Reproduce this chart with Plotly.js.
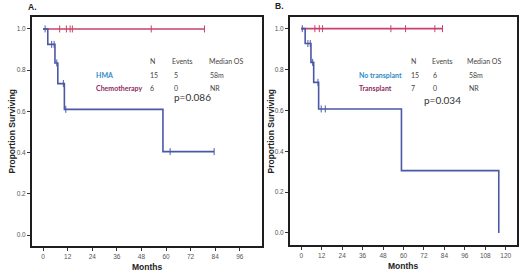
<!DOCTYPE html>
<html>
<head>
<meta charset="utf-8">
<script src="https://cdn.plot.ly/plotly-3.0.1.min.js"></script>
<style>html,body{margin:0;padding:0;background:#fff;}#chart{width:520px;height:274px;}</style>
</head>
<body>
<div id="chart"></div>
<script>
// ---- Panel A: HMA vs Chemotherapy ----
var hmaTimes = [0, 2.3, 5.8, 7.2, 10.4, 58.5, 83.5];
var hmaSurv = [1.0, 0.925, 0.835, 0.735, 0.61, 0.405, 0.405];
var hmaCensorT = [1.0, 4.2, 5.4, 6.7, 9.9, 11.1, 62.0, 83.5];
var hmaCensorS = [1.0, 0.925, 0.925, 0.835, 0.735, 0.61, 0.405, 0.405];
var chemoTimes = [0, 78.8];
var chemoSurv = [1.0, 1.0];
var chemoCensorT = [8.1, 11.4, 13.2, 14.3, 52.8, 78.8];
var chemoCensorS = [1.0, 1.0, 1.0, 1.0, 1.0, 1.0];

// ---- Panel B: No transplant vs Transplant ----
var noTxTimes = [0, 2.3, 5.7, 7.3, 10.2, 58.8, 115.9];
var noTxSurv = [1.0, 0.927, 0.835, 0.737, 0.607, 0.305, 0.0];
var noTxCensorT = [0.6, 3.9, 5.3, 6.7, 9.8, 11.7, 14.1];
var noTxCensorS = [1.0, 0.927, 0.927, 0.835, 0.737, 0.607, 0.607];
var txTimes = [0, 82.9];
var txSurv = [1.0, 1.0];
var txCensorT = [8.0, 10.6, 12.5, 52.6, 61.2, 78.4, 82.9];
var txCensorS = [1.0, 1.0, 1.0, 1.0, 1.0, 1.0, 1.0];

// ---- Tables ----
var tableHeader = ['N', 'Events', 'Median OS'];
var groupsA = ['HMA', 'Chemotherapy'];
var nA = ['15', '6'];
var eventsA = ['5', '0'];
var medianA = ['58m', 'NR'];
var pA = 'p=0.086';
var groupsB = ['No transplant', 'Transplant'];
var nB = ['15', '7'];
var eventsB = ['6', '0'];
var medianB = ['58m', 'NR'];
var pB = 'p=0.034';

var xTicksA = [0, 12, 24, 36, 48, 60, 72, 84, 96];
var xTicksB = [0, 12, 24, 36, 48, 60, 72, 84, 96, 108, 120];
var yTicks = [0.0, 0.2, 0.4, 0.6, 0.8, 1.0];

var BLUE = '#4a58a6', RED = '#c9416a';
var LBLUE = '#2f8bc6', LRED = '#8e2a62';

function km(x, y, color, xa, ya) {
  return {x: x, y: y, xaxis: xa, yaxis: ya, type: 'scatter', mode: 'lines',
    line: {color: color, width: 1.6, shape: 'hv'}, hoverinfo: 'skip', showlegend: false};
}
function cens(x, y, color, xa, ya) {
  return {x: x, y: y, xaxis: xa, yaxis: ya, type: 'scatter', mode: 'markers',
    marker: {symbol: 'line-ns', size: 5, line: {color: color, width: 1}},
    hoverinfo: 'skip', showlegend: false};
}

var data = [
  km(chemoTimes, chemoSurv, RED, 'x', 'y'),
  km(hmaTimes, hmaSurv, BLUE, 'x', 'y'),
  cens(chemoCensorT, chemoCensorS, RED, 'x', 'y'),
  cens(hmaCensorT, hmaCensorS, BLUE, 'x', 'y'),
  km(txTimes, txSurv, RED, 'x2', 'y2'),
  km(noTxTimes, noTxSurv, BLUE, 'x2', 'y2'),
  cens(txCensorT, txCensorS, RED, 'x2', 'y2'),
  cens(noTxCensorT, noTxCensorS, BLUE, 'x2', 'y2')
];

function px(x) { return x / 520; }
function py(y) { return 1 - y / 274; }

function axisCommon() {
  return {showline: true, mirror: true, linecolor: '#1e1e1e', linewidth: 2,
    ticks: 'outside', ticklen: 3, tickwidth: 1, tickcolor: '#333',
    showgrid: false, zeroline: false, fixedrange: true,
    tickfont: {family: 'Arial, Liberation Sans', size: 6.5, color: '#555'}};
}

var xA = axisCommon(); xA.domain = [px(32), px(261.5)]; xA.range = [-5.4, 106.6];
xA.tickvals = xTicksA; xA.anchor = 'y';
var yA = axisCommon(); yA.domain = [py(246), py(17)]; yA.range = [-0.053, 1.058];
yA.tickvals = yTicks; yA.tickformat = '.1f'; yA.anchor = 'x';
var xB = axisCommon(); xB.domain = [px(290), px(517)]; xB.range = [-6.6, 126.6];
xB.tickvals = xTicksB; xB.anchor = 'y2';
var yB = axisCommon(); yB.domain = [py(245), py(17)]; yB.range = [-0.059, 1.057];
yB.tickvals = yTicks; yB.tickformat = '.1f'; yB.anchor = 'x2';

var ann = [];
function txt(t, x, y, opts) {
  var a = {text: t, x: px(x), y: py(y), xref: 'paper', yref: 'paper',
    xanchor: (opts && opts.xanchor) || 'left', yanchor: 'middle', showarrow: false,
    font: {family: (opts && opts.family) || 'Lato, Open Sans, sans-serif',
      size: (opts && opts.size) || 7, color: (opts && opts.color) || '#444'}};
  if (opts && opts.angle) a.textangle = opts.angle;
  ann.push(a);
}

function table(groups, n, ev, med, p, gx, nx, ex, mx, pxPos, pyPos) {
  txt(tableHeader[0], nx, 61);
  txt(tableHeader[1], ex, 61);
  txt(tableHeader[2], mx, 61);
  var rowsY = [75, 88.3];
  var cols = [LBLUE, LRED];
  for (var i = 0; i < groups.length; i++) {
    txt('<b>' + groups[i] + '</b>', gx, rowsY[i], {color: cols[i]});
    txt(n[i], nx, rowsY[i]);
    txt(ev[i], ex + 1.5, rowsY[i]);
    txt(med[i], mx + 1.5, rowsY[i]);
  }
  txt(p, pxPos, pyPos, {size: 10, color: '#333'});
}
table(groupsA, nA, eventsA, medianA, pA, 94, 148, 170, 206.7, 171.5, 97);
table(groupsB, nB, eventsB, medianB, pB, 356.7, 409, 429.5, 465, 421.5, 100);

// Axis titles and panel labels
var bf = 'Arial, Liberation Sans';
txt('<b>Proportion Surviving</b>', 11, 131.5, {family: bf, size: 8.5, color: '#222', angle: -90, xanchor: 'center'});
txt('<b>Proportion Surviving</b>', 270, 131.5, {family: bf, size: 8.5, color: '#222', angle: -90, xanchor: 'center'});
txt('<b>Months</b>', 146.7, 267, {family: bf, size: 8.5, color: '#222', xanchor: 'center'});
txt('<b>Months</b>', 403, 265.5, {family: bf, size: 8.5, color: '#222', xanchor: 'center'});
txt('<b>A.</b>', 26, 7, {family: bf, size: 8.5, color: '#222'});
txt('<b>B.</b>', 273, 6, {family: bf, size: 8.5, color: '#222'});

var layout = {
  width: 520, height: 274,
  margin: {l: 0, r: 0, t: 0, b: 0},
  paper_bgcolor: '#ffffff', plot_bgcolor: '#ffffff',
  showlegend: false,
  xaxis: xA, yaxis: yA, xaxis2: xB, yaxis2: yB,
  annotations: ann
};

Plotly.newPlot('chart', data, layout, {staticPlot: true, displayModeBar: false});
</script>
</body>
</html>
